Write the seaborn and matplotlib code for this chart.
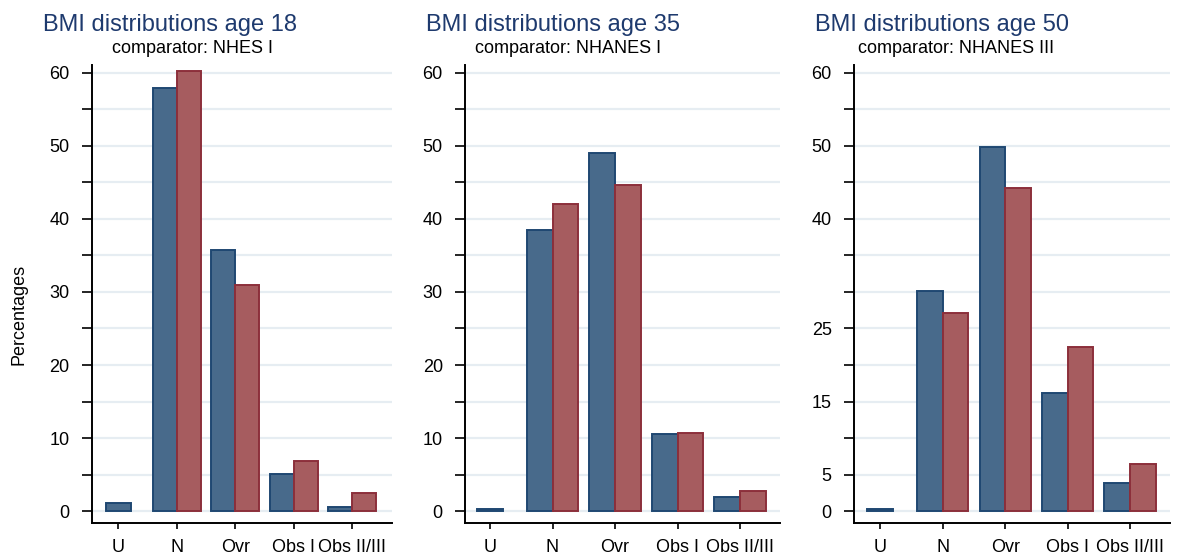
import numpy as np
import pandas as pd
import matplotlib
matplotlib.use("Agg")
import matplotlib.pyplot as plt
import seaborn as sns

# ---------------- data ----------------
categories = ["U", "N", "Ovr", "Obs I", "Obs II/III"]
series_names = ["Cohort", "Comparator"]

age18_cohort = [1.1, 57.9, 35.8, 5.1, 0.6]
age18_comparator = [np.nan, 60.3, 31.0, 6.8, 2.5]
age35_cohort = [0.3, 38.5, 49.0, 10.5, 1.9]
age35_comparator = [np.nan, 42.0, 44.7, 10.7, 2.75]
age50_cohort = [0.3, 30.2, 49.8, 16.1, 3.8]
age50_comparator = [np.nan, 27.1, 44.2, 22.5, 6.4]

titles = ["BMI distributions age 18", "BMI distributions age 35", "BMI distributions age 50"]
subtitles = ["comparator: NHES I", "comparator: NHANES I", "comparator: NHANES III"]

ytick_values = list(range(0, 61, 5))
ylabels_p1 = [0, 10, 20, 30, 40, 50, 60]
ylabels_p2 = [0, 10, 20, 30, 40, 50, 60]
ylabels_p3 = [0, 5, 15, 25, 40, 50, 60]

# ---------------- style ----------------
sns.set_style("white")
plt.rcParams["font.family"] = ["Liberation Sans", "DejaVu Sans"]

blue_fill, blue_edge = "#486a8b", "#1f4872"
red_fill, red_edge = "#a65c5f", "#8c2f3b"
title_color = "#1e3a6e"

W, H = 1178, 554
fig = plt.figure(figsize=(W / 100, H / 100), dpi=100)

# axes boxes in pixels: left, right, top, bottom ; and xlim
panels = [
    dict(box=(91.7, 392, 64.5, 522.7), xlim=(-0.455, 4.68),
         c=age18_cohort, r=age18_comparator, labs=ylabels_p1,
         tx=43, sx=192),
    dict(box=(465, 780, 64.5, 522.7), xlim=(-0.40, 4.64),
         c=age35_cohort, r=age35_comparator, labs=ylabels_p2,
         tx=426, sx=568),
    dict(box=(854, 1170, 64.5, 522.7), xlim=(-0.42, 4.64),
         c=age50_cohort, r=age50_comparator, labs=ylabels_p3,
         tx=815, sx=956),
]

for i, p in enumerate(panels):
    l, rgt, t, b = p["box"]
    ax = fig.add_axes([l / W, 1 - b / H, (rgt - l) / W, (b - t) / H])
    rows = []
    for cat, cv, rv in zip(categories, p["c"], p["r"]):
        rows.append((cat, series_names[0], cv, not np.isnan(rv)))
        rows.append((cat, series_names[1], rv, not np.isnan(rv)))
    df = pd.DataFrame(rows, columns=["category", "series", "value", "paired"])
    df_pair = df[df["paired"]]
    df_single = df[(~df["paired"]) & df["value"].notna()]

    ax.set_axisbelow(True)
    ax.yaxis.grid(True, color="#e6edf2", lw=1.6)
    ax.xaxis.grid(False)

    sns.barplot(data=df_pair, x="category", y="value", hue="series",
                order=categories, hue_order=series_names,
                palette=[blue_fill, red_fill], saturation=1, width=0.82,
                dodge=True, errorbar=None, legend=False, ax=ax,
                linewidth=1.4, zorder=2)
    for cont, ec in zip(ax.containers, [blue_edge, red_edge]):
        for bar in cont:
            bar.set_edgecolor(ec)
    sns.barplot(data=df_single, x="category", y="value",
                order=categories, color=blue_fill, saturation=1, width=0.42,
                errorbar=None, ax=ax, linewidth=1.4, edgecolor=blue_edge,
                zorder=2)

    ax.set_xlim(*p["xlim"])
    ax.set_ylim(-1.6, 61.16)
    ax.set_yticks(ytick_values)
    ax.set_yticklabels([str(v) if v in p["labs"] else "" for v in ytick_values])
    ax.set_xlabel("")
    ax.set_ylabel("")
    for s in ["top", "right"]:
        ax.spines[s].set_visible(False)
    for s in ["left", "bottom"]:
        ax.spines[s].set_color("black")
        ax.spines[s].set_linewidth(1.4)
    ax.tick_params(axis="y", length=7, width=1.2, pad=9, labelsize=13,
                   colors="black", left=True, direction="out")
    ax.tick_params(axis="x", length=4.5, width=1.2, pad=7, labelsize=13,
                   colors="black", bottom=True, direction="out")

    fig.text(p["tx"] / W, 1 - 31 / H, titles[i], ha="left", va="baseline",
             fontsize=17, color=title_color)
    fig.text(p["sx"] / W, 1 - 53 / H, subtitles[i], ha="center", va="baseline",
             fontsize=13, color="black")

fig.text(18.8 / W, 1 - 314.5 / H, "Percentages", rotation=90, ha="center",
         va="center", fontsize=13, color="black")

fig.savefig("out.png", dpi=100, facecolor="white")
